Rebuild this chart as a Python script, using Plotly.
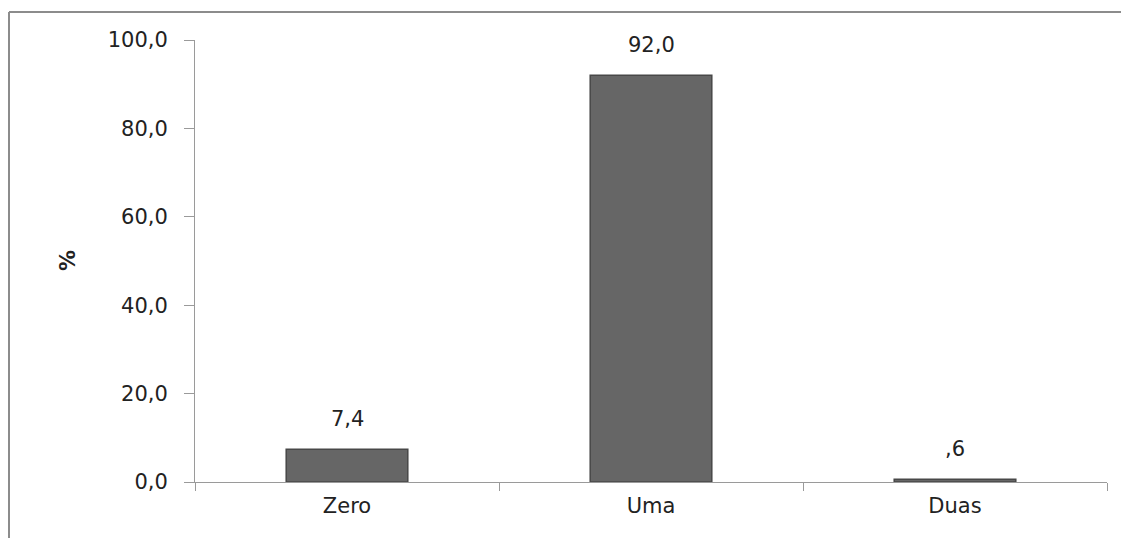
import plotly.graph_objects as go

categories = ["Zero", "Uma", "Duas"]
values = [7.4, 92.0, 0.6]
y_ticks = [0, 20, 40, 60, 80, 100]
y_tick_labels = ["0,0", "20,0", "40,0", "60,0", "80,0", "100,0"]


def fmt(v):
    s = f"{v:.1f}".replace(".", ",")
    if s.startswith("0,"):
        s = s[1:]
    return s


# the page body adds an 8px offset; figure coords = screen coords - 8
OFF = 8
L, T = 195 - OFF, 40 - OFF
pw, ph = 912, 442
R, B = 22, 56
W, H = L + pw + R, T + ph + B

font_family = "DejaVu Sans"
text_color = "#222222"
axis_color = "#9a9a9a"
fs = 21

fig = go.Figure()
fig.add_trace(go.Bar(
    x=categories,
    y=values,
    width=0.4,
    marker=dict(color="#666666", line=dict(color="#484848", width=1.5)),
    hoverinfo="skip",
))

for c, v in zip(categories, values):
    fig.add_annotation(
        x=c, y=v, text=fmt(v), showarrow=False,
        yanchor="bottom", yshift=16,
        font=dict(family=font_family, size=fs, color=text_color),
    )

# y-axis title
fig.add_annotation(
    xref="paper", yref="paper",
    x=(68 - OFF - L) / pw, y=0.5, xanchor="center", yanchor="middle",
    text="<b>%</b>", textangle=-90, showarrow=False,
    font=dict(family=font_family, size=fs, color=text_color),
)

# outer chart-area border (top and left edges visible)
bx = (1 - L) / pw
by = (T + ph - (12 - OFF)) / ph
fig.add_shape(type="line", xref="paper", yref="paper",
              x0=bx, y0=by, x1=1.1, y1=by,
              line=dict(color="#8c8c8c", width=2))
fig.add_shape(type="line", xref="paper", yref="paper",
              x0=bx, y0=by, x1=bx, y1=-0.3,
              line=dict(color="#8c8c8c", width=2))

fig.update_layout(
    width=W, height=H,
    margin=dict(l=L, r=R, t=T, b=B),
    paper_bgcolor="white",
    plot_bgcolor="white",
    showlegend=False,
    font=dict(family=font_family, size=fs, color=text_color),
    xaxis=dict(
        range=[-0.5, 2.5],
        showline=True, linecolor=axis_color, linewidth=1,
        ticks="outside", tickson="boundaries", ticklen=8,
        tickcolor=axis_color, showgrid=False, zeroline=False,
        ticklabelstandoff=5,
        tickfont=dict(family=font_family, size=fs, color=text_color),
    ),
    yaxis=dict(
        range=[0, 100],
        tickvals=y_ticks, ticktext=y_tick_labels,
        showline=True, linecolor=axis_color, linewidth=1,
        ticks="outside", ticklen=10, tickcolor=axis_color,
        showgrid=False, zeroline=False,
        ticklabelstandoff=12,
        tickfont=dict(family=font_family, size=fs, color=text_color),
    ),
)

fig.write_html("out.html")
